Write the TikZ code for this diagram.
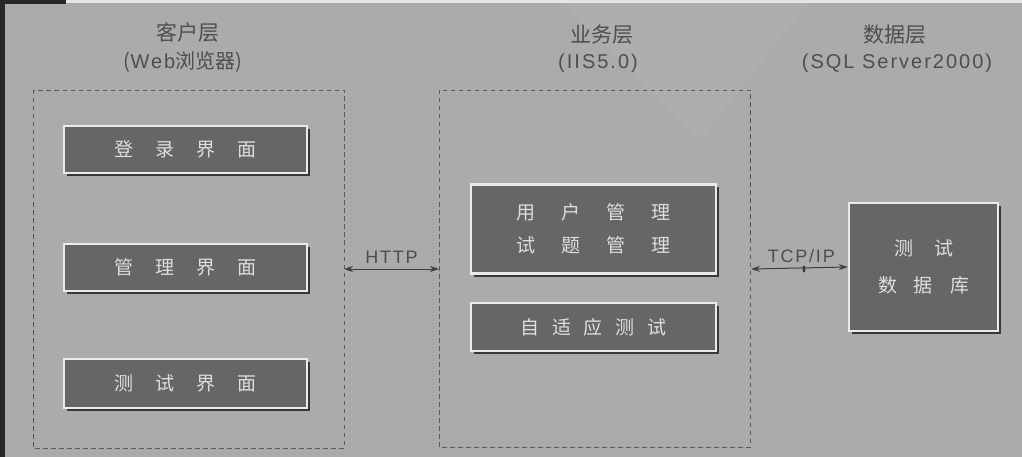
\documentclass[tikz,border=0pt]{standalone}
\usepackage{fontspec}
\setmainfont{Noto Sans CJK SC}
\newfontfamily\latinw[LetterSpace=10]{Liberation Sans}
\usetikzlibrary{arrows.meta,shadows,shapes.geometric}
\definecolor{bg}{HTML}{ABABAB}
\definecolor{boxfill}{HTML}{666666}
\definecolor{txtgray}{HTML}{4E4E4E}
\definecolor{boxtxt}{HTML}{DEDEDE}
\definecolor{dashc}{HTML}{5A5A5A}
\tikzset{
  layer/.style={draw=dashc, line width=0.9pt, dash pattern=on 4.5pt off 3.5pt},
  bevel/.style={draw=white!92!black, line width=2.6pt, fill=boxfill,
    drop shadow={shadow xshift=3pt, shadow yshift=-3pt, opacity=1, fill=black!78},
    text=boxtxt, font=\fontsize{19}{24}\selectfont, align=center, inner sep=0pt},
  title/.style={text=txtgray, font=\fontsize{21}{24}\selectfont, inner sep=0pt},
  sub/.style={text=txtgray, font=\fontsize{20}{24}\selectfont, inner sep=0pt},
  link/.style={draw=txtgray!80!black, line width=1pt, {Stealth[length=9pt,width=6pt]}-{Stealth[length=9pt,width=6pt]}},
  lbl/.style={text=txtgray, font=\fontsize{18}{21}\selectfont\latinw, inner sep=0pt}
}
\newcommand{\gp}[1]{\hspace{#1}}
\begin{document}
\begin{tikzpicture}[x=1pt,y=-1pt]
\useasboundingbox (0,0) rectangle (1022,457);
\fill[bg] (0,0) rectangle (1022,457);
\fill[white, opacity=0.04] (560,0) -- (700,140) -- (810,0) -- cycle;
% top strip and dark corner
\fill[white!90!black] (0,0) rectangle (1022,3);
\fill[black!85] (0,0) rectangle (66,4);
\fill[black!85] (0,0) rectangle (5,457);

% titles
\node[title] (t1) at (188,33) {客户层};
\node[sub] (s1) at (183,62) {(\latinw Web\normalfont{}浏览器)};
\node[title] (t2) at (602,35) {业务层};
\node[sub] (s2) at (598,63) {\latinw (IIS5.0)};
\node[title] (t3) at (895,35) {数据层};
\node[sub] (s3) at (897,63) {\latinw (SQL Server2000)};

% dashed layer boxes
\draw[layer] (33,90) rectangle (344,448);
\draw[layer] (439,90) rectangle (750,447);

% client boxes
\node[bevel, minimum width=243pt, minimum height=47pt] (b1) at (185.5,149.5) {登\gp{22pt}录\gp{22pt}界\gp{22pt}面};
\node[bevel, minimum width=243pt, minimum height=47pt] (b2) at (185.5,267.5) {管\gp{22pt}理\gp{22pt}界\gp{22pt}面};
\node[bevel, minimum width=243pt, minimum height=49pt] (b3) at (185.5,383.5) {测\gp{22pt}试\gp{22pt}界\gp{22pt}面};

% business boxes
\node[bevel, minimum width=245pt, minimum height=89pt] (b4) at (593.5,229) {用\gp{26pt}户\gp{26pt}管\gp{26pt}理\\[9pt]试\gp{26pt}题\gp{26pt}管\gp{26pt}理};
\node[bevel, minimum width=245pt, minimum height=48pt] (b5) at (593.5,327) {自\gp{13pt}适\gp{13pt}应\gp{13pt}测\gp{13pt}试};

% database box
\node[bevel, minimum width=149pt, minimum height=128pt] (b6) at (923.5,267) {测\gp{21pt}试\\[13pt]数\gp{17pt}据\gp{17pt}库};

% connectors
\coordinate (h1) at (344,269);
\coordinate (h2) at (439,269);
\draw[link] (h1) -- node[lbl, above=5pt] (http) {HTTP} (h2);
\coordinate (c1) at (751,269);
\draw[link] (c1) -- node[lbl, above=5pt, pos=0.52] (tcp) {TCP/IP} (b6.west);
\node[fill=txtgray!80!black, ellipse, minimum width=3pt, minimum height=7pt, inner sep=0pt] (dot) at (804,269) {};
\end{tikzpicture}
\end{document}
